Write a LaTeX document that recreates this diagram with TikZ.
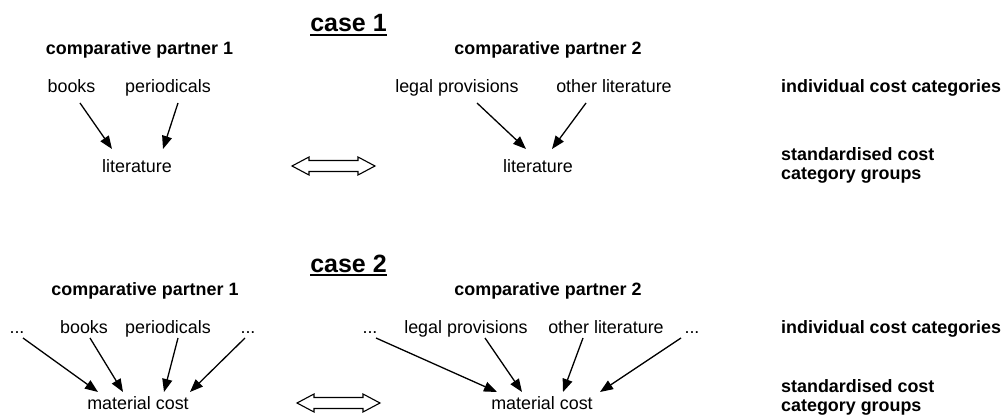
\documentclass[tikz,border=0pt]{standalone}
\usepackage{fontspec}
\setmainfont{Liberation Sans}
\usetikzlibrary{arrows.meta}
\begin{document}
\begin{tikzpicture}[x=1pt,y=-1pt,
  lbl/.style={inner sep=0pt,anchor=base,font=\fontsize{17.9}{21}\selectfont},
  hdr/.style={lbl,font=\fontsize{17.9}{21}\selectfont\bfseries},
  side/.style={inner sep=0pt,anchor=base west,font=\fontsize{17.9}{19}\selectfont\bfseries,align=left},
  casettl/.style={inner sep=0pt,anchor=base,font=\fontsize{25}{28}\selectfont\bfseries},
  uline/.style={line width=1.8pt},
  conn/.style={line width=1.3pt,-{Triangle[length=13,width=10]}},
  darr/.style={line width=1.1pt,draw=black,fill=white,line join=miter}]
\useasboundingbox (0,0) rectangle (1002,417);

% ---------- case 1 ----------
\node[casettl] (c1) at (348.5,32) {case 1};
\draw[uline] ([yshift=-2.8pt]c1.base west) -- ([yshift=-2.8pt]c1.base east);
\node[hdr] (p11) at (139.5,55) {comparative partner 1};
\node[hdr] (p12) at (548,55) {comparative partner 2};

\node[lbl] (books1) at (71.5,93) {books};
\node[lbl] (per1) at (168,93) {periodicals};
\node[lbl] (legal1) at (457,93) {legal provisions};
\node[lbl] (other1) at (614,93) {other literature};
\node[side] (ind1) at (781,93) {individual cost categories};

\node[lbl] (lit1) at (137,173) {literature};
\node[lbl] (lit2) at (538,173) {literature};
\node[side] (std1) at (781,180) {standardised cost\\category groups};

\draw[conn] ([shift={(8.5,10)}]books1.base) -- ([shift={(-25,-24)}]lit1.base);
\draw[conn] ([shift={(10,10)}]per1.base) -- ([shift={(26,-24)}]lit1.base);
\draw[conn] ([shift={(20,10)}]legal1.base) -- ([shift={(-12,-24)}]lit2.base);
\draw[conn] ([shift={(-28,10)}]other1.base) -- ([shift={(14,-24)}]lit2.base);

\draw[darr] (292,166) -- (309,157) -- (309,160.5) -- (358,160.5) -- (358,157)
  -- (375,166) -- (358,175) -- (358,171.5) -- (309,171.5) -- (309,175) -- cycle;

% ---------- case 2 ----------
\node[casettl] (c2) at (348.5,272) {case 2};
\draw[uline] ([yshift=-2.8pt]c2.base west) -- ([yshift=-2.8pt]c2.base east);
\node[hdr] (p21) at (145,295) {comparative partner 1};
\node[hdr] (p22) at (548,295) {comparative partner 2};

\node[lbl] (d1) at (17,333) {...};
\node[lbl] (books2) at (84,333) {books};
\node[lbl] (per2) at (168,333) {periodicals};
\node[lbl] (d2) at (248,333) {...};
\node[lbl] (d3) at (370,333) {...};
\node[lbl] (legal2) at (466,333) {legal provisions};
\node[lbl] (other2) at (606,333) {other literature};
\node[lbl] (d4) at (692,333) {...};
\node[side] (ind2) at (781,333) {individual cost categories};

\node[lbl] (mat1) at (138,409) {material cost};
\node[lbl] (mat2) at (542,409) {material cost};
\node[side] (std2) at (781,411.5) {standardised cost\\category groups};

\draw[conn] ([shift={(6,5)}]d1.base) -- ([shift={(-40,-17)}]mat1.base);
\draw[conn] ([shift={(6,5)}]books2.base) -- ([shift={(-15,-17)}]mat1.base);
\draw[conn] ([shift={(10,5)}]per2.base) -- ([shift={(26,-17)}]mat1.base);
\draw[conn] ([shift={(-3,5)}]d2.base) -- ([shift={(52,-17)}]mat1.base);

\draw[conn] ([shift={(6,5)}]d3.base) -- ([shift={(-45,-17)}]mat2.base);
\draw[conn] ([shift={(19,5)}]legal2.base) -- ([shift={(-20,-17)}]mat2.base);
\draw[conn] ([shift={(-23,5)}]other2.base) -- ([shift={(21,-17)}]mat2.base);
\draw[conn] ([shift={(-11,5)}]d4.base) -- ([shift={(58,-17)}]mat2.base);

\draw[darr] (297,403) -- (314,394) -- (314,397.5) -- (363,397.5) -- (363,394)
  -- (380,403) -- (363,412) -- (363,408.5) -- (314,408.5) -- (314,412) -- cycle;
\end{tikzpicture}
\end{document}
